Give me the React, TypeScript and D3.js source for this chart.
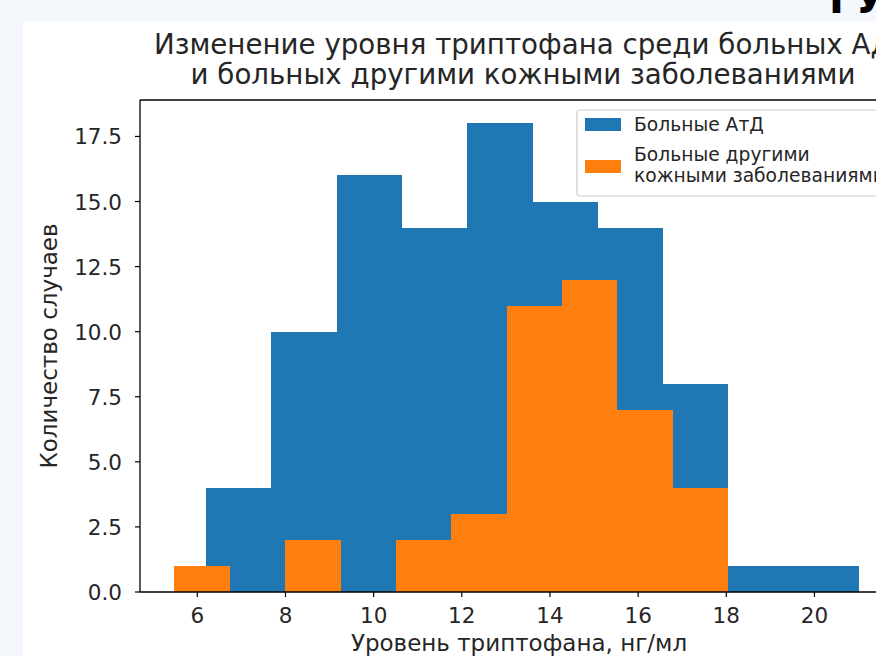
import React from "react";
import * as d3 from "d3";

// ---- data ----
const blueEdges = [6.19, 7.67, 9.16, 10.64, 12.12, 13.61, 15.09, 16.57, 18.05, 19.54, 21.02];
const blueCounts = [4, 10, 16, 14, 18, 15, 14, 8, 1, 1];
const orangeEdges = [5.48, 6.74, 7.99, 9.25, 10.5, 11.76, 13.02, 14.27, 15.53, 16.78, 18.04];
const orangeCounts = [1, 0, 2, 0, 2, 3, 11, 12, 7, 4];
const xTicks = [6, 8, 10, 12, 14, 16, 18, 20];
const yTicks = [0, 2.5, 5, 7.5, 10, 12.5, 15, 17.5];
const seriesNames = ["Больные АтД", "Больные другими\nкожными заболеваниями"];
const titleLines = [
  "Изменение уровня триптофана среди больных АД",
  "и больных другими кожными заболеваниями",
];
const xLabel = "Уровень триптофана, нг/мл";
const yLabel = "Количество случаев";
const slideText = "ГУ";

const W = 876;
const H = 656;
const FONT = "DejaVu Sans";
const BLUE = "#1f77b4";
const ORANGE = "#ff7f0e";

const M = { left: 140, right: 896, top: 100, bottom: 592 };

export default function App() {
  const x = d3.scaleLinear().domain([4.7, 21.85]).range([M.left, M.right]);
  const y = d3.scaleLinear().domain([0, 18.9]).range([M.bottom, M.top]);

  const bins = (edges: number[], counts: number[]) =>
    counts.map((c, i) => ({ x0: edges[i], x1: edges[i + 1], c }));

  const T = (props: { x: number; y: number; size: number; anchor?: string; rot?: boolean; children: any; weight?: string; fill?: string }) => (
    <text
      transform={`translate(${props.x},${props.y})` + (props.rot ? " rotate(-90)" : "")}
      fontFamily={FONT}
      fontSize={props.size}
      fontWeight={props.weight || "normal"}
      textAnchor={props.anchor || "start"}
      fill={props.fill || "#262626"}
    >
      {props.children}
    </text>
  );

  const legendX = 577;
  const legendY = 110;

  return (
    <svg
      width={W}
      height={H}
      style={{ position: "fixed", left: 0, top: 0 }}
      xmlns="http://www.w3.org/2000/svg"
    >
      <defs>
        <clipPath id="plot">
          <rect x={M.left} y={M.top} width={M.right - M.left} height={M.bottom - M.top} />
        </clipPath>
      </defs>
      <rect x={0} y={0} width={W} height={H} fill="#f4f7fb" />
      <rect x={23} y={22} width={W - 23} height={H - 22} fill="#ffffff" />
      <T x={829} y={13} size={40} weight="bold" fill="#000">{slideText}</T>

      {/* title */}
      {titleLines.map((t, i) => (
        <T key={i} x={523} y={54 + i * 30} size={27.7} anchor="middle">{t}</T>
      ))}

      {/* bars */}
      <g clipPath="url(#plot)" shapeRendering="crispEdges">
        {bins(blueEdges, blueCounts).map((b, i) => (
          <rect key={"b" + i} x={x(b.x0)} width={x(b.x1) - x(b.x0)} y={y(b.c)} height={y(0) - y(b.c)} fill={BLUE} />
        ))}
        {bins(orangeEdges, orangeCounts).map((b, i) => (
          <rect key={"o" + i} x={x(b.x0)} width={x(b.x1) - x(b.x0)} y={y(b.c)} height={y(0) - y(b.c)} fill={ORANGE} />
        ))}
      </g>

      {/* spines */}
      <g stroke="#000" strokeWidth={1.3} fill="none">
        <line x1={M.left} x2={M.left} y1={M.top} y2={M.bottom} />
        <line x1={M.left} x2={M.right} y1={M.top} y2={M.top} />
        <line x1={M.left} x2={M.right} y1={M.bottom} y2={M.bottom} />
        <line x1={M.right} x2={M.right} y1={M.top} y2={M.bottom} />
      </g>

      {/* y ticks */}
      {yTicks.map((t) => (
        <g key={"yt" + t}>
          <line x1={M.left - 5} x2={M.left} y1={y(t)} y2={y(t)} stroke="#000" strokeWidth={1.2} />
          <T x={M.left - 18} y={y(t) + 8} size={21.5} anchor="end">{t.toFixed(1)}</T>
        </g>
      ))}
      {/* x ticks */}
      {xTicks.map((t) => (
        <g key={"xt" + t}>
          <line x1={x(t)} x2={x(t)} y1={M.bottom} y2={M.bottom + 5} stroke="#000" strokeWidth={1.2} />
          <T x={x(t)} y={623} size={21.5} anchor="middle">{String(t)}</T>
        </g>
      ))}

      {/* axis labels */}
      <T x={519} y={651} size={23} anchor="middle">{xLabel}</T>
      <T x={57} y={346} size={23} anchor="middle" rot>{yLabel}</T>

      {/* legend */}
      <rect x={legendX} y={legendY} width={330} height={86} rx={3} fill="#fff" fillOpacity={0.8} stroke="#cccccc" strokeWidth={1.2} />
      <rect x={585} y={118} width={36} height={13} fill={BLUE} />
      <rect x={585} y={160} width={36} height={13} fill={ORANGE} />
      <T x={634} y={131} size={18.7}>{seriesNames[0].split("\n")[0]}</T>
      {seriesNames[1].split("\n").map((s, i) => (
        <T key={i} x={634} y={161 + i * 21} size={18.7}>{s}</T>
      ))}
    </svg>
  );
}
